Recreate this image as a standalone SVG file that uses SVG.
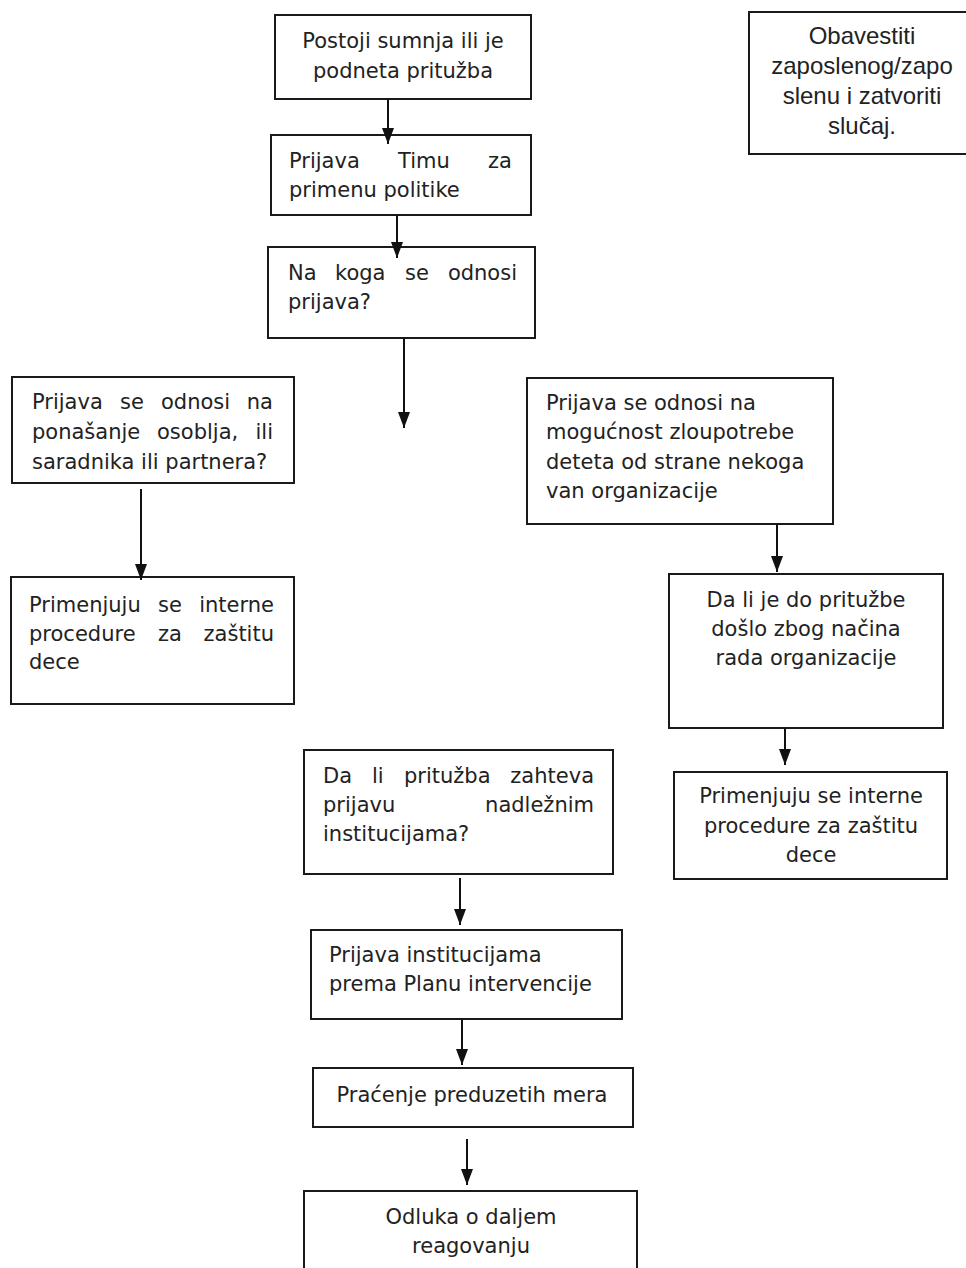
<svg xmlns="http://www.w3.org/2000/svg" width="966" height="1268" viewBox="0 0 966 1268">
<style>
.box{fill:#fff;stroke:#1a1a1a;stroke-width:2}
.t{font-family:"DejaVu Sans",Verdana,sans-serif;font-size:21px;fill:#222}
.a{font-family:"Liberation Sans",Arial,sans-serif;font-size:24px;fill:#222}
.c{text-anchor:middle}
.e{text-anchor:end}
.conn line{stroke:#111;stroke-width:2}
</style>
<defs>
<marker id="ah" markerUnits="userSpaceOnUse" markerWidth="16" markerHeight="12" viewBox="0 0 16 12" refX="16" refY="6" orient="auto">
<path d="M0,0 L16,6 L0,12 Z" fill="#111"/>
</marker>
</defs>
<rect width="966" height="1268" fill="#fff"/>

<g id="n1"><rect class="box" x="275" y="15" width="256" height="84"/>
<text class="t c" x="403" y="48">Postoji sumnja ili je</text>
<text class="t c" x="403" y="78">podneta pritužba</text></g>

<g id="n2"><rect class="box" x="271" y="135" width="260" height="80"/>
<text class="t" x="289" y="168">Prijava</text><text class="t" x="398" y="168">Timu</text><text class="t e" x="512" y="168">za</text>
<text class="t" x="289" y="197">primenu politike</text></g>

<g id="n3"><rect class="box" x="268" y="247" width="267" height="91"/>
<text class="t" x="288" y="280">Na</text><text class="t" x="335" y="280">koga</text><text class="t" x="405" y="280">se</text><text class="t e" x="517" y="280">odnosi</text>
<text class="t" x="288" y="309">prijava?</text></g>

<g id="n4"><rect class="box" x="749" y="12" width="222" height="142"/>
<text class="a c" x="862" y="44">Obavestiti</text>
<text class="a c" x="862" y="74">zaposlenog/zapo</text>
<text class="a c" x="862" y="104">slenu i zatvoriti</text>
<text class="a c" x="862" y="134">slučaj.</text></g>

<g id="n5"><rect class="box" x="12" y="377" width="282" height="106"/>
<text class="t" x="32" y="409">Prijava</text><text class="t" x="120" y="409">se</text><text class="t" x="161" y="409">odnosi</text><text class="t e" x="273" y="409">na</text>
<text class="t" x="32" y="439">ponašanje</text><text class="t" x="157" y="439">osoblja,</text><text class="t e" x="273" y="439">ili</text>
<text class="t" x="32" y="469">saradnika ili partnera?</text></g>

<g id="n6"><rect class="box" x="11" y="577" width="283" height="127"/>
<text class="t" x="29" y="612">Primenjuju</text><text class="t" x="158" y="612">se</text><text class="t e" x="274" y="612">interne</text>
<text class="t" x="29" y="641">procedure</text><text class="t" x="158" y="641">za</text><text class="t e" x="274" y="641">zaštitu</text>
<text class="t" x="29" y="669">dece</text></g>

<g id="n7"><rect class="box" x="527" y="378" width="306" height="146"/>
<text class="t" x="546" y="410">Prijava se odnosi na</text>
<text class="t" x="546" y="439">mogućnost zloupotrebe</text>
<text class="t" x="546" y="469">deteta od strane nekoga</text>
<text class="t" x="546" y="498">van organizacije</text></g>

<g id="n8"><rect class="box" x="669" y="574" width="274" height="154"/>
<text class="t c" x="806" y="607">Da li je do pritužbe</text>
<text class="t c" x="806" y="636">došlo zbog načina</text>
<text class="t c" x="806" y="665">rada organizacije</text></g>

<g id="n9"><rect class="box" x="674" y="772" width="273" height="107"/>
<text class="t c" x="811" y="803">Primenjuju se interne</text>
<text class="t c" x="811" y="833">procedure za zaštitu</text>
<text class="t c" x="811" y="862">dece</text></g>

<g id="n10"><rect class="box" x="304" y="750" width="309" height="124"/>
<text class="t" x="323" y="783">Da</text><text class="t" x="372" y="783">li</text><text class="t" x="404" y="783">pritužba</text><text class="t e" x="594" y="783">zahteva</text>
<text class="t" x="323" y="812">prijavu</text><text class="t e" x="594" y="812">nadležnim</text>
<text class="t" x="323" y="841">institucijama?</text></g>

<g id="n11"><rect class="box" x="311" y="930" width="311" height="89"/>
<text class="t" x="329" y="962">Prijava institucijama</text>
<text class="t" x="329" y="991">prema Planu intervencije</text></g>

<g id="n12"><rect class="box" x="313" y="1068" width="320" height="59"/>
<text class="t c" x="472" y="1102">Praćenje preduzetih mera</text></g>

<g id="n13"><rect class="box" x="304" y="1191" width="333" height="90"/>
<text class="t c" x="471" y="1224">Odluka o daljem</text>
<text class="t c" x="471" y="1253">reagovanju</text></g>

<g class="conn" id="connectors">
<line x1="388" y1="99" x2="388" y2="144" marker-end="url(#ah)"/>
<line x1="397" y1="215" x2="397" y2="258" marker-end="url(#ah)"/>
<line x1="404" y1="338" x2="404" y2="428" marker-end="url(#ah)"/>
<line x1="141" y1="489" x2="141" y2="580" marker-end="url(#ah)"/>
<line x1="777" y1="524" x2="777" y2="572" marker-end="url(#ah)"/>
<line x1="785" y1="728" x2="785" y2="765" marker-end="url(#ah)"/>
<line x1="460" y1="878" x2="460" y2="925" marker-end="url(#ah)"/>
<line x1="462" y1="1019" x2="462" y2="1065" marker-end="url(#ah)"/>
<line x1="467" y1="1139" x2="467" y2="1185" marker-end="url(#ah)"/>
</g>
</svg>
